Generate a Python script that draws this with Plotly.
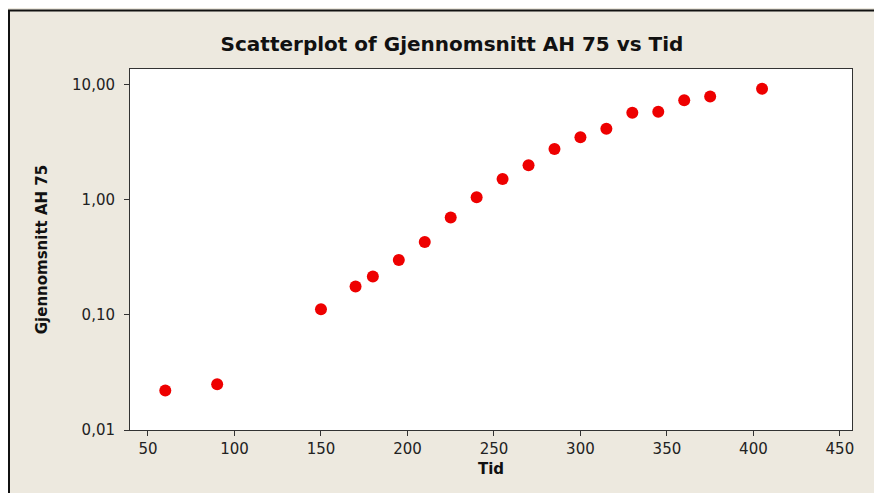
import plotly.graph_objects as go

# Data
tid = [60, 90, 150, 170, 180, 195, 210, 225, 240, 255, 270, 285, 300, 315, 330, 345, 360, 375, 405]
gjennomsnitt_ah75 = [0.022, 0.025, 0.112, 0.176, 0.215, 0.30, 0.43, 0.70, 1.05, 1.51, 1.99, 2.76, 3.48, 4.14, 5.68, 5.80, 7.31, 7.87, 9.19]

x_ticks = [50, 100, 150, 200, 250, 300, 350, 400, 450]
y_tick_vals = [0.01, 0.1, 1, 10]
y_tick_text = ["0,01", "0,10", "1,00", "10,00"]

BG = "#EDE9DF"
W, H = 882, 493
OFF = 8  # page body margin offset
L, T = 130 - OFF, 69 - OFF
R = W - (852 - OFF)
B = H - (430 - OFF)
PW, PH = W - L - R, H - T - B

def px_to_paper_x(px):
    return (px - L) / PW

def px_to_paper_y(py):
    return (H - B - py) / PH

fig = go.Figure()
fig.add_trace(go.Scatter(
    x=tid, y=gjennomsnitt_ah75, mode="markers",
    marker=dict(symbol="circle", size=12, color="#EE0000", line=dict(width=0)),
    showlegend=False,
))

axis_font = dict(family="DejaVu Sans, Verdana, sans-serif", size=15, color="#222222")
title_font = dict(family="DejaVu Sans, Tahoma, sans-serif", size=15, color="#111111")

fig.update_layout(
    width=W, height=H,
    margin=dict(l=L, r=R, t=T, b=B, pad=0),
    paper_bgcolor=BG, plot_bgcolor="white",
    title=dict(text="<b>Scatterplot of Gjennomsnitt AH 75 vs Tid</b>",
               x=(452 - OFF) / W, xanchor="center", y=1 - (44 - OFF) / H, yanchor="middle",
               font=dict(family="DejaVu Sans, Tahoma, sans-serif", size=20, color="#111111")),
    xaxis=dict(range=[39.6, 457], tickvals=x_ticks, ticks="outside", ticklen=5,
               tickcolor="#333333", showline=True, linecolor="#333333", linewidth=1,
               mirror=True, showgrid=False, zeroline=False, tickfont=axis_font,
               title=dict(text="<b>Tid</b>", font=title_font, standoff=6)),
    yaxis=dict(type="log", range=[-2, 1.135], tickvals=y_tick_vals, ticktext=y_tick_text,
               ticks="outside", ticklen=5, tickcolor="#333333", showline=True,
               linecolor="#333333", linewidth=1, mirror=True, showgrid=False,
               zeroline=False, tickfont=axis_font, ticklabelstandoff=6,
               title=dict(text="<b>Gjennomsnitt AH 75</b>", font=title_font, standoff=20)),
    shapes=[
        dict(type="line", xref="paper", yref="paper",
             x0=px_to_paper_x(1), x1=px_to_paper_x(1),
             y0=px_to_paper_y(2.5), y1=px_to_paper_y(H + 2),
             line=dict(color="#111111", width=2)),
        dict(type="line", xref="paper", yref="paper",
             x0=px_to_paper_x(0), x1=px_to_paper_x(W + 2),
             y0=px_to_paper_y(2.5), y1=px_to_paper_y(2.5),
             line=dict(color="#111111", width=2)),
    ],
)

fig.write_html("out.html")
